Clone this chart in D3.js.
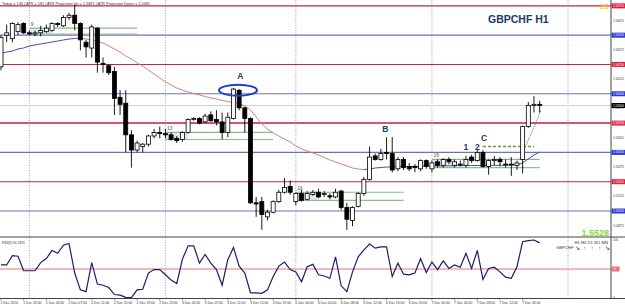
<!DOCTYPE html>
<html>
<head>
<meta charset="utf-8">
<script src="https://cdn.jsdelivr.net/npm/d3@7"></script>
<style>
  body { margin: 0; background: #fff; }
  svg { display: block; font-family: 'Liberation Sans', Arial, sans-serif; }
</style>
</head>
<body>
<div id="chart"></div>
<script>
// GBPCHF H1, 1 Dec 19:00 .. 7 Dec 19:00 (one entry per hourly bar)
const opens = [
  1.5623,1.5650,1.5647,1.5653,1.5660,1.5652,1.5651,1.5652,1.5653,1.5654,
  1.5660,1.5658,1.5665,1.5667,1.5660,1.5644,1.5639,1.5656,1.5626,1.5624,
  1.5619,1.5597,1.5592,1.5565,1.5552,1.5555,1.5557,1.5564,1.5567,1.5566,
  1.5565,1.5562,1.5561,1.5567,1.5578,1.5579,1.5576,1.5582,1.5578,1.5576,
  1.5567,1.5579,1.5603,1.5588,1.5579,1.5507,1.5508,1.5495,1.5499,1.5508,
  1.5516,1.5521,1.5508,1.5515,1.5510,1.5514,1.5516,1.5514,1.5513,1.5512,
  1.5517,1.5503,1.5492,1.5504,1.5515,1.5527,1.5547,1.5544,1.5550,1.5549,
  1.5536,1.5544,1.5538,1.5538,1.5536,1.5543,1.5536,1.5542,1.5539,1.5544,
  1.5539,1.5540,1.5539,1.5546,1.5543,1.5550,1.5538,1.5543,1.5544,1.5540,
  1.5540,1.5539,1.5544,1.5572,1.5590,1.5591
];
const highs = [
  1.5650,1.5659,1.5661,1.5661,1.5661,1.5654,1.5654,1.5658,1.5659,1.5661,
  1.5661,1.5667,1.5669,1.5676,1.5661,1.5646,1.5659,1.5657,1.5631,1.5625,
  1.5623,1.5603,1.5603,1.5569,1.5560,1.5558,1.5565,1.5570,1.5572,1.5570,
  1.5567,1.5564,1.5568,1.5579,1.5580,1.5580,1.5583,1.5585,1.5586,1.5584,
  1.5584,1.5605,1.5604,1.5589,1.5580,1.5512,1.5512,1.5501,1.5509,1.5518,
  1.5528,1.5526,1.5516,1.5518,1.5517,1.5518,1.5519,1.5517,1.5515,1.5519,
  1.5518,1.5507,1.5504,1.5516,1.5529,1.5555,1.5549,1.5553,1.5563,1.5563,
  1.5546,1.5546,1.5541,1.5540,1.5544,1.5544,1.5543,1.5544,1.5545,1.5546,
  1.5544,1.5543,1.5547,1.5548,1.5552,1.5552,1.5544,1.5547,1.5546,1.5544,
  1.5546,1.5543,1.5573,1.5593,1.5598,1.5594
];
const lows = [
  1.5620,1.5644,1.5644,1.5650,1.5651,1.5650,1.5649,1.5649,1.5652,1.5653,
  1.5657,1.5657,1.5663,1.5654,1.5637,1.5631,1.5631,1.5618,1.5618,1.5616,
  1.5582,1.5582,1.5550,1.5537,1.5550,1.5550,1.5555,1.5562,1.5562,1.5562,
  1.5560,1.5558,1.5559,1.5566,1.5577,1.5574,1.5575,1.5576,1.5573,1.5561,
  1.5563,1.5578,1.5586,1.5567,1.5506,1.5495,1.5484,1.5492,1.5498,1.5507,
  1.5515,1.5514,1.5505,1.5508,1.5509,1.5513,1.5511,1.5512,1.5510,1.5511,
  1.5501,1.5484,1.5487,1.5503,1.5513,1.5526,1.5543,1.5543,1.5544,1.5533,
  1.5534,1.5535,1.5534,1.5533,1.5534,1.5536,1.5533,1.5537,1.5537,1.5540,
  1.5537,1.5538,1.5537,1.5541,1.5542,1.5537,1.5531,1.5539,1.5538,1.5537,
  1.5530,1.5535,1.5532,1.5571,1.5584,1.5584
];
const closes = [
  1.5648,1.5652,1.5660,1.5659,1.5652,1.5651,1.5652,1.5654,1.5656,1.5660,
  1.5659,1.5665,1.5667,1.5660,1.5646,1.5640,1.5657,1.5627,1.5625,1.5618,
  1.5596,1.5591,1.5565,1.5552,1.5558,1.5557,1.5564,1.5567,1.5566,1.5565,
  1.5561,1.5560,1.5567,1.5578,1.5579,1.5575,1.5581,1.5577,1.5576,1.5567,
  1.5580,1.5604,1.5588,1.5579,1.5507,1.5506,1.5497,1.5499,1.5508,1.5516,
  1.5520,1.5516,1.5515,1.5509,1.5515,1.5516,1.5512,1.5515,1.5512,1.5516,
  1.5503,1.5493,1.5503,1.5515,1.5527,1.5546,1.5544,1.5549,1.5549,1.5535,
  1.5544,1.5537,1.5536,1.5537,1.5543,1.5538,1.5541,1.5539,1.5544,1.5542,
  1.5542,1.5540,1.5544,1.5543,1.5550,1.5538,1.5543,1.5544,1.5542,1.5540,
  1.5540,1.5541,1.5572,1.5590,1.5591,1.5590
];
const maValues = [
  1.56348,1.56356,1.56365,1.56382,1.56391,1.56408,1.56416,1.56425,1.56433,1.56442,
  1.56450,1.56459,1.56467,1.56472,1.56476,1.56467,1.56459,1.56446,1.56433,1.56408,
  1.56382,1.56356,1.56322,1.56297,1.56263,1.56237,1.56203,1.56169,1.56135,1.56101,
  1.56075,1.56049,1.56032,1.56015,1.56002,1.55990,1.55977,1.55964,1.55956,1.55943,
  1.55934,1.55926,1.55917,1.55896,1.55862,1.55802,1.55742,1.55700,1.55665,1.55640,
  1.55614,1.55589,1.55555,1.55529,1.55512,1.55495,1.55478,1.55457,1.55435,1.55418,
  1.55401,1.55384,1.55367,1.55358,1.55354,1.55358,1.55367,1.55371,1.55375,1.55377,
  1.55378,1.55379,1.55380,1.55381,1.55382,1.55383,1.55384,1.55385,1.55385,1.55386,
  1.55386,1.55387,1.55387,1.55388,1.55388,1.55389,1.55389,1.55390,1.55390,1.55391,
  1.55392,1.55393,1.55410,1.55444,1.55478,1.55503
];
const rsiValues = [
  57,57,73,72,47,47,47,61,68,82,
  77,91,94,43,14,11,61,24,22,18,
  6,5,1,0.5,14,15,43,49,49,40,
  31,25,67,90,90,60,75,60,49,22,
  66,87,55,43,9,9,8,14,37,55,
  62,49,45,28,54,58,40,38,34,71,
  21,11,45,71,83,93,86,88,88,37,
  60,41,40,43,68,44,62,49,64,51,
  57,53,77,51,82,32,51,53,45,36,
  34,54,97,99,100,95
];
const timeLabels = [
  '1 Dec 2010','1 Dec 23:00','2 Dec 03:00','2 Dec 07:00','2 Dec 11:00','2 Dec 15:00',
  '2 Dec 19:00','2 Dec 23:00','3 Dec 03:00','3 Dec 07:00','3 Dec 11:00','3 Dec 15:00',
  '3 Dec 19:00','6 Dec 00:00','6 Dec 04:00','6 Dec 08:00','6 Dec 12:00','6 Dec 16:00',
  '6 Dec 20:00','7 Dec 00:00','7 Dec 04:00','7 Dec 08:00','7 Dec 12:00','7 Dec 16:00'
];
const dayStartBars = [5, 29, 52, 76, 100];

// horizontal levels: resistance (red) / support (blue)
const levelPrices = [1.5675, 1.5650, 1.5625, 1.5600, 1.5575, 1.5550, 1.5525, 1.5500];
const levelKinds = ['R', 'S', 'R', 'S', 'P', 'S', 'R', 'S'];
const priceTicks = [1.56625, 1.56375, 1.56125, 1.55875, 1.55625, 1.55375, 1.55125, 1.54875];

// daily range boxes
const zoneStart = [5, 29, 52, 76];
const zoneEnd = [24, 48, 71, 95];
const zoneHigh = [1.5656, 1.5567, 1.5516, 1.5544];
const zoneLow = [1.5651, 1.5561, 1.5509, 1.5537];
const zoneCount = ['9', '13', '16', '16'];

// annotations
const noteText = ['A', 'B', 'C', '1', '2'];
const noteBar = [42.2, 67.8, 85.2, 82, 84];
const notePrice = [1.5613, 1.5567, 1.5560, 1.5552, 1.5552];
const ringBar = 41.8, ringPrice = 1.5603;
const breakoutBars = [85, 94];
const breakoutPrice = 1.5555;
const projBars = [91.5, 95.2];
const projPrices = [1.55435, 1.55856];

const W = 625, H = 306;
const plotRight = 611;
const svg = d3.select('#chart').append('svg').attr('width', W).attr('height', H);

const x = d3.scaleLinear().domain([0, 100]).range([1, 568]);
const y = d3.scaleLinear().domain([1.5478, 1.5680]).range([236.8, 0]);
const yR = d3.scaleLinear().domain([0, 100]).range([298, 240]);

const levelColor = {R: '#b8284a', S: '#7070b4', P: '#d65476'};
const tagColor = {R: '#e0203e', S: '#2a3ad8', P: '#e0304e'};

// day separators
svg.append('g').selectAll('line').data(dayStartBars).join('line')
  .attr('x1', d => x(d)).attr('x2', d => x(d))
  .attr('y1', 0).attr('y2', 298)
  .attr('stroke', '#8a8a8a').attr('stroke-width', 0.8).attr('stroke-dasharray', '1,1.5');

// shaded start of each daily range box
const zi = d3.range(zoneStart.length);
svg.append('g').selectAll('rect').data(zi).join('rect')
  .attr('x', i => x(zoneStart[i])).attr('width', i => x(zoneStart[i] + 4) - x(zoneStart[i]))
  .attr('y', i => y(zoneHigh[i])).attr('height', i => y(zoneLow[i]) - y(zoneHigh[i]))
  .attr('fill', '#dfe7f6');

// level lines
svg.append('g').selectAll('line').data(levelPrices).join('line')
  .attr('x1', 0).attr('x2', plotRight)
  .attr('y1', d => y(d)).attr('y2', d => y(d))
  .attr('stroke', (d, i) => levelColor[levelKinds[i]])
  .attr('stroke-width', (d, i) => levelKinds[i] === 'P' ? 2 : 1.1);

// bid line
const last = closes[closes.length - 1];
svg.append('line').attr('x1', 0).attr('x2', plotRight)
  .attr('y1', y(last)).attr('y2', y(last))
  .attr('stroke', '#cfcfcf').attr('stroke-width', 1);

// range box lines
const zg = svg.append('g');
zg.selectAll('line.hi').data(zi).join('line').attr('class', 'hi')
  .attr('x1', i => x(zoneStart[i])).attr('x2', i => x(zoneEnd[i]))
  .attr('y1', i => y(zoneHigh[i])).attr('y2', i => y(zoneHigh[i]))
  .attr('stroke', '#86bb86').attr('stroke-width', 1.2);
zg.selectAll('line.lo').data(zi).join('line').attr('class', 'lo')
  .attr('x1', i => x(zoneStart[i])).attr('x2', i => x(zoneEnd[i]))
  .attr('y1', i => y(zoneLow[i])).attr('y2', i => y(zoneLow[i]))
  .attr('stroke', '#8fbf8f').attr('stroke-width', 1.2);
zg.selectAll('text').data(zi).join('text')
  .attr('x', i => x(zoneStart[i]) + 1.5).attr('y', i => y(zoneHigh[i]) - 2.5)
  .attr('font-size', 5).attr('fill', '#555').text(i => zoneCount[i]);

// breakout dashed line
svg.append('line')
  .attr('x1', x(breakoutBars[0])).attr('x2', x(breakoutBars[1]))
  .attr('y1', y(breakoutPrice)).attr('y2', y(breakoutPrice))
  .attr('stroke', '#6f9a2a').attr('stroke-width', 1.6).attr('stroke-dasharray', '3,2');

// moving average, coloured by slope
const maSeg = d3.range(maValues.length - 1);
svg.append('g').selectAll('line').data(maSeg).join('line')
  .attr('x1', i => x(i)).attr('x2', i => x(i + 1))
  .attr('y1', i => y(maValues[i])).attr('y2', i => y(maValues[i + 1]))
  .attr('stroke', i => maValues[i + 1] >= maValues[i] ? '#4c4cae' : '#d48080')
  .attr('stroke-width', 1);

// projection
svg.append('line')
  .attr('x1', x(projBars[0])).attr('x2', x(projBars[1]))
  .attr('y1', y(projPrices[0])).attr('y2', y(projPrices[1]))
  .attr('stroke', '#3a3ab0').attr('stroke-width', 0.8).attr('stroke-dasharray', '1,1');

// candles
const bars = d3.range(opens.length);
const cg = svg.append('g');
cg.selectAll('line').data(bars).join('line')
  .attr('x1', i => x(i)).attr('x2', i => x(i))
  .attr('y1', i => y(highs[i])).attr('y2', i => y(lows[i]))
  .attr('stroke', '#000').attr('stroke-width', 0.9);
cg.selectAll('rect').data(bars).join('rect')
  .attr('x', i => x(i) - 2).attr('width', 4)
  .attr('y', i => y(Math.max(opens[i], closes[i])))
  .attr('height', i => Math.max(0.8, Math.abs(y(opens[i]) - y(closes[i]))))
  .attr('fill', i => closes[i] >= opens[i] ? '#fff' : '#000')
  .attr('stroke', '#000').attr('stroke-width', 0.8);

// annotations
svg.append('ellipse')
  .attr('cx', x(ringBar)).attr('cy', y(ringPrice)).attr('rx', 19).attr('ry', 5.5)
  .attr('fill', 'none').attr('stroke', '#1d3fd0').attr('stroke-width', 2);
svg.append('g').selectAll('text').data(noteText).join('text')
  .attr('x', (d, i) => x(noteBar[i])).attr('y', (d, i) => y(notePrice[i]))
  .attr('text-anchor', 'middle').attr('font-size', 8.5).attr('font-weight', 'bold')
  .attr('fill', '#1e3a6c').text(d => d);

svg.append('text').attr('x', 488).attr('y', 23)
  .attr('font-size', 10.5).attr('font-weight', 'bold').attr('fill', '#1f3864')
  .text('GBPCHF H1');
svg.append('text').attr('x', 2).attr('y', 4.6)
  .attr('font-size', 4).attr('fill', '#333').attr('textLength', 148)
  .attr('lengthAdjust', 'spacingAndGlyphs')
  .text('Today = 136  |  ATR = 181  |  ATR Projection Up = 1.5891  |  ATR Projection Down = 1.5365');
svg.append('text').attr('x', 609).attr('y', 9)
  .attr('text-anchor', 'end').attr('font-size', 8).attr('font-weight', 'bold')
  .attr('fill', '#f0cc30').text('20');
svg.append('text').attr('x', 609).attr('y', 235.5)
  .attr('text-anchor', 'end').attr('font-size', 9).attr('font-weight', 'bold')
  .attr('fill', '#7ede3c').text('1.5528');

// RSI panel
svg.append('line').attr('x1', 0).attr('x2', plotRight)
  .attr('y1', yR(50)).attr('y2', yR(50))
  .attr('stroke', '#f2b8bc').attr('stroke-width', 2);
svg.append('path').datum(rsiValues)
  .attr('d', d3.line().x((d, i) => x(i)).y(d => yR(d)))
  .attr('fill', 'none').attr('stroke', '#1c1c6a').attr('stroke-width', 1.2);
svg.append('text').attr('x', 2).attr('y', 243.5)
  .attr('font-size', 3.6).attr('fill', '#333').attr('textLength', 23)
  .attr('lengthAdjust', 'spacingAndGlyphs').text('RSI(3) 94.7491');
svg.append('text').attr('x', 608).attr('y', 244)
  .attr('text-anchor', 'end').attr('font-size', 4.2).attr('fill', '#333')
  .text('H1 H4 D1 W1 MN');
svg.append('text').attr('x', 556).attr('y', 248.8)
  .attr('font-size', 4.2).attr('fill', '#333').text('GBPCHF');
const arrows = ['\u2198', '\u2191', '\u2191', '\u2191', '\u2198'];
svg.append('g').selectAll('text').data(arrows).join('text')
  .attr('x', (d, i) => 577 + i * 7.5).attr('y', 249.5)
  .attr('text-anchor', 'middle').attr('font-size', 5.5).attr('font-weight', 'bold')
  .attr('fill', d => d === '\u2191' ? '#1a30d0' : '#d820d8').text(d => d);

// frame
svg.append('line').attr('x1', 0).attr('x2', W).attr('y1', 237).attr('y2', 237)
  .attr('stroke', '#444').attr('stroke-width', 1);
svg.append('line').attr('x1', 0).attr('x2', W).attr('y1', 298.5).attr('y2', 298.5)
  .attr('stroke', '#444').attr('stroke-width', 1);
svg.append('line').attr('x1', plotRight).attr('x2', plotRight).attr('y1', 0).attr('y2', 298.5)
  .attr('stroke', '#444').attr('stroke-width', 1);

// price axis
const ax = svg.append('g').attr('font-size', 3).attr('fill', '#333');
ax.selectAll('text').data(priceTicks).join('text')
  .attr('x', 613).attr('y', d => y(d) + 1).text(d => d.toFixed(5));
const tags = svg.append('g');
const tagData = levelPrices.map((p, i) => ({p, c: tagColor[levelKinds[i]]}))
  .concat([{p: last, c: '#000'}]);
tags.selectAll('rect').data(tagData).join('rect')
  .attr('x', plotRight + 0.5).attr('width', W - plotRight)
  .attr('y', d => y(d.p) - 2.5).attr('height', 5).attr('fill', d => d.c);
tags.selectAll('text').data(tagData).join('text')
  .attr('x', 613).attr('y', d => y(d.p) + 1.1)
  .attr('font-size', 3).attr('fill', '#fff').text(d => d.p.toFixed(5));

// RSI axis
svg.append('rect').attr('x', plotRight + 0.5).attr('width', 8)
  .attr('y', yR(50) - 2.5).attr('height', 5).attr('fill', '#ea6a78');
svg.append('g').attr('font-size', 3).attr('fill', '#333')
  .selectAll('text').data([100, 50, 0]).join('text')
  .attr('x', 613).attr('y', d => yR(d) + 1.2)
  .attr('fill', d => d === 50 ? '#fff' : '#333').text(d => d);

// time axis
const tg = svg.append('g');
tg.selectAll('line').data(timeLabels).join('line')
  .attr('x1', (d, i) => x(i * 4)).attr('x2', (d, i) => x(i * 4))
  .attr('y1', 298.5).attr('y2', 300.5).attr('stroke', '#444').attr('stroke-width', 0.6);
tg.selectAll('text').data(timeLabels).join('text')
  .attr('x', (d, i) => x(i * 4) - 0.5).attr('y', 303.6)
  .attr('font-size', 3.4).attr('fill', '#333').text(d => d);
</script>
</body>
</html>
